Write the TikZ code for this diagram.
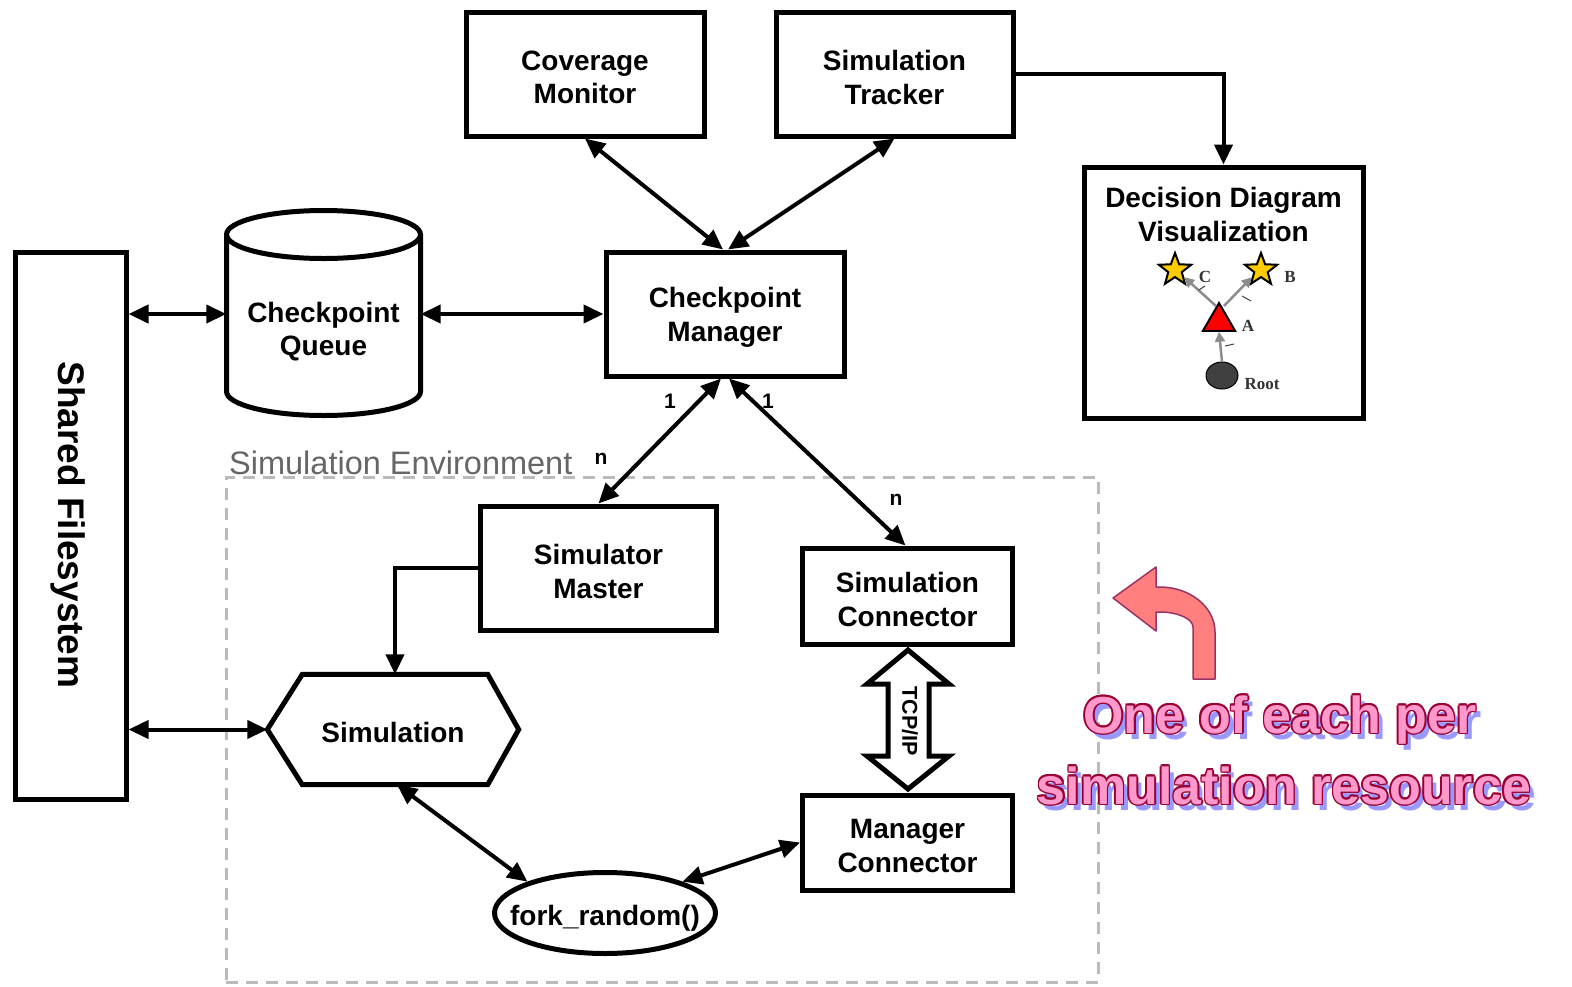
\documentclass[tikz,border=0pt]{standalone}
\usepackage{fontspec}
\setmainfont{Liberation Sans}
\newfontfamily\ddserif{Liberation Serif}
\usetikzlibrary{arrows.meta,shapes.geometric,calc}

\definecolor{envgray}{HTML}{BBBBBB}
\definecolor{envtext}{HTML}{666666}
\definecolor{starfill}{HTML}{FFCC00}
\definecolor{rootfill}{HTML}{404040}
\definecolor{ddgray}{HTML}{8C8C8C}
\definecolor{ddlabel}{HTML}{333333}
\definecolor{curlfill}{HTML}{FF7F7F}
\definecolor{curlline}{HTML}{993366}
\definecolor{notefill}{HTML}{FF99CC}
\definecolor{noteline}{HTML}{990033}
\definecolor{noteshadow}{HTML}{9999FF}

% outlined pink caption line with a drop shadow: name, position, text
\newcommand\noteline[3]{%
  \node[notestyle, text=noteshadow] at ($(#2)+(5,6)$) {#3};
  \foreach \ang in {0,45,...,315}
    \node[notestyle, text=noteline] at ($(#2)+(\ang:1.6)$) {#3};
  \node[notestyle, text=notefill] (#1) at (#2) {#3};
}

\begin{document}
\begin{tikzpicture}[x=1pt,y=-1pt,
  box/.style={draw, line width=5pt, inner sep=0pt},
  boxtext/.style={align=center, inner sep=0pt, yshift=-3.5pt,
    font=\bfseries\fontsize{28}{33.5}\selectfont},
  plain/.style={align=center, inner sep=0pt,
    font=\bfseries\fontsize{28}{33.5}\selectfont,
    execute at begin node={\rule{0pt}{27pt}}},
  biarrow/.style={line width=4pt,
    {Triangle[length=20pt,width=18pt]}-{Triangle[length=20pt,width=18pt]}},
  onearrow/.style={line width=4pt, -{Triangle[length=20pt,width=18pt]}},
  card/.style={font=\bfseries\fontsize{21}{21}\selectfont, inner sep=0pt},
  ddarrow/.style={ddgray, line width=2.5pt, -{Triangle[length=10pt,width=10pt]}},
  ddtick/.style={black!75, line width=1pt},
  ddtext/.style={font=\ddserif\bfseries\fontsize{17}{17}\selectfont, text=ddlabel, inner sep=0pt},
  notestyle/.style={anchor=base, inner sep=0pt, font=\bfseries\fontsize{52}{52}\selectfont},
]
\useasboundingbox (0,0) rectangle (1572,986);

% simulation environment frame
\node[draw=envgray, line width=3pt, dash pattern=on 12pt off 8pt,
  minimum width=872, minimum height=505, inner sep=0pt] (env) at (662,729.5) {};
\node[anchor=base west, inner sep=0pt, text=envtext,
  font=\fontsize{32.5}{32.5}\selectfont] (envlabel) at (229,474) {Simulation Environment};

% boxes
\node[box, minimum width=238, minimum height=124,
  label={[boxtext]center:{Coverage\\Monitor}}] (cov) at (585,74) {};
\node[box, minimum width=237, minimum height=124,
  label={[boxtext]center:{Simulation\\Tracker}}] (trk) at (894.5,74) {};
\node[box, minimum width=238, minimum height=124,
  label={[boxtext]center:{Checkpoint\\Manager}}] (cm) at (725,314) {};
\node[box, minimum width=111, minimum height=547] (sfs) at (70.5,525.5) {};
\node[align=center, inner sep=0pt, rotate=-90, font=\bfseries\fontsize{37}{37}\selectfont]
  (sfstext) at (68,525) {Shared Filesystem};
\node[box, minimum width=236, minimum height=124,
  label={[boxtext]center:{Simulator\\Master}}] (sm) at (598.5,568) {};
\node[box, minimum width=210, minimum height=96,
  label={[boxtext]center:{Simulation\\Connector}}] (sc) at (907.5,596) {};
\node[box, minimum width=210, minimum height=95,
  label={[boxtext]center:{Manager\\Connector}}] (mc) at (907.5,842.5) {};
\node[box, ellipse, minimum width=221, minimum height=81] (fork) at (605,913) {};
\node[plain] (forktext) at (605,915) {fork\_random()};

% checkpoint queue cylinder
\node[minimum width=194, minimum height=205, inner sep=0pt] (queue) at (323.5,314) {};
\draw[line width=5pt] (323.5,234.5) ellipse [x radius=97, y radius=24];
\draw[line width=5pt] (226.5,234.5) -- (226.5,391.5)
  .. controls (226.5,404.75) and (269.9,415.5) .. (323.5,415.5)
  .. controls (377.1,415.5) and (420.5,404.75) .. (420.5,391.5) -- (420.5,234.5);
\node[boxtext] (queuetext) at (323.5,328) {Checkpoint\\Queue};

% simulation hexagon
\node[plain, minimum width=251, minimum height=110] (sim) at (393,729.5) {Simulation};
\draw[line width=5pt, line join=miter] (sim.west) -- ($(sim.north west)+(35,0)$)
  -- ($(sim.north east)+(-31,0)$) -- (sim.east) -- ($(sim.south east)+(-31,0)$)
  -- ($(sim.south west)+(35,0)$) -- cycle;

% decision diagram visualization
\node[box, minimum width=279, minimum height=251] (ddv) at (1223.5,292.5) {};
\node[boxtext] (ddvtitle) at (1223.5,211) {Decision Diagram\\Visualization};
\node[ellipse, fill=rootfill, draw=black, line width=1pt, minimum width=32, minimum height=27, inner sep=0pt] (root) at (1222,375.5) {};
\node[regular polygon, regular polygon sides=3, fill=red, draw=black, line width=2pt, minimum size=37, inner sep=0pt] (tri) at (1219,321.5) {};
\node[star, star points=5, star point ratio=2.4, fill=starfill, draw=black, line width=2pt, minimum size=34, inner sep=0pt] (starC) at (1175,270) {};
\node[star, star points=5, star point ratio=2.4, fill=starfill, draw=black, line width=2pt, minimum size=34, inner sep=0pt] (starB) at (1261,270) {};
\draw[ddarrow] (root.north) -- (tri.south);
\draw[ddarrow] ($(tri.corner 1)+(-3,5)$) -- (starC.-38);
\draw[ddarrow] ($(tri.corner 1)+(5,5)$) -- (starB.218);
\draw[ddtick] (1225,346) -- (1234,344);
\draw[ddtick] (1199,290) -- (1205,286);
\draw[ddtick] (1242,296) -- (1251,301);
\node[ddtext] (labC) at (1205,277) {C};
\node[ddtext] (labB) at (1290,277) {B};
\node[ddtext] (labA) at (1248,326) {A};
\node[ddtext] (labRoot) at (1262,384) {Root};

% connectors
\draw[biarrow] (cov.south) -- ([xshift=-2]cm.north);
\draw[biarrow] (trk.south) -- ([xshift=3]cm.north);
\draw[onearrow] (trk.east) -| (ddv.north);
\draw[biarrow] (sfs.east |- queue.west) -- (queue.west);
\draw[biarrow] (queue.east) -- (cm.west);
\draw[biarrow] ([xshift=-4]cm.south) -- (sm.north);
\draw[biarrow] ([xshift=4]cm.south) -- ([xshift=-2]sc.north);
\draw[onearrow] (sm.west) -| ([xshift=2]sim.north);
\draw[biarrow] (sfs.east |- sim.west) -- (sim.west);
\draw[biarrow] ([xshift=4]sim.south) -- (fork.158);
\draw[biarrow] (fork.22) -- (mc.west);

% multiplicities
\node[card] (m1) at (670,401) {1};
\node[card] (m2) at (601,459) {n};
\node[card] (m3) at (768,401) {1};
\node[card] (m4) at (896,500) {n};

% hollow TCP/IP double arrow
\draw[line width=5pt, line join=miter, fill=white]
  (908,650) -- (949,684) -- (929,684) -- (929,756) -- (949,756) -- (908,789)
  -- (867,756) -- (888,756) -- (888,684) -- (867,684) -- cycle;
\node[inner sep=0pt, rotate=-90, font=\bfseries\fontsize{21.5}{21.5}\selectfont]
  (tcp) at (910,721) {TCP/IP};

% curled pointer
\draw[fill=curlfill, draw=curlline, line width=1.5pt, line join=round]
  (1113,598) -- (1156,567) -- (1156,587) -- (1160,587)
  .. controls (1190,587) and (1215,607) .. (1215,632)
  -- (1215,679) -- (1193,679) -- (1193,627)
  .. controls (1193,619) and (1178,612) .. (1160,612)
  -- (1156,612) -- (1156,631) -- cycle;

% caption
\noteline{note1}{1280,733}{One of each per}
\noteline{note2}{1284,804}{simulation resource}

\end{tikzpicture}
\end{document}
